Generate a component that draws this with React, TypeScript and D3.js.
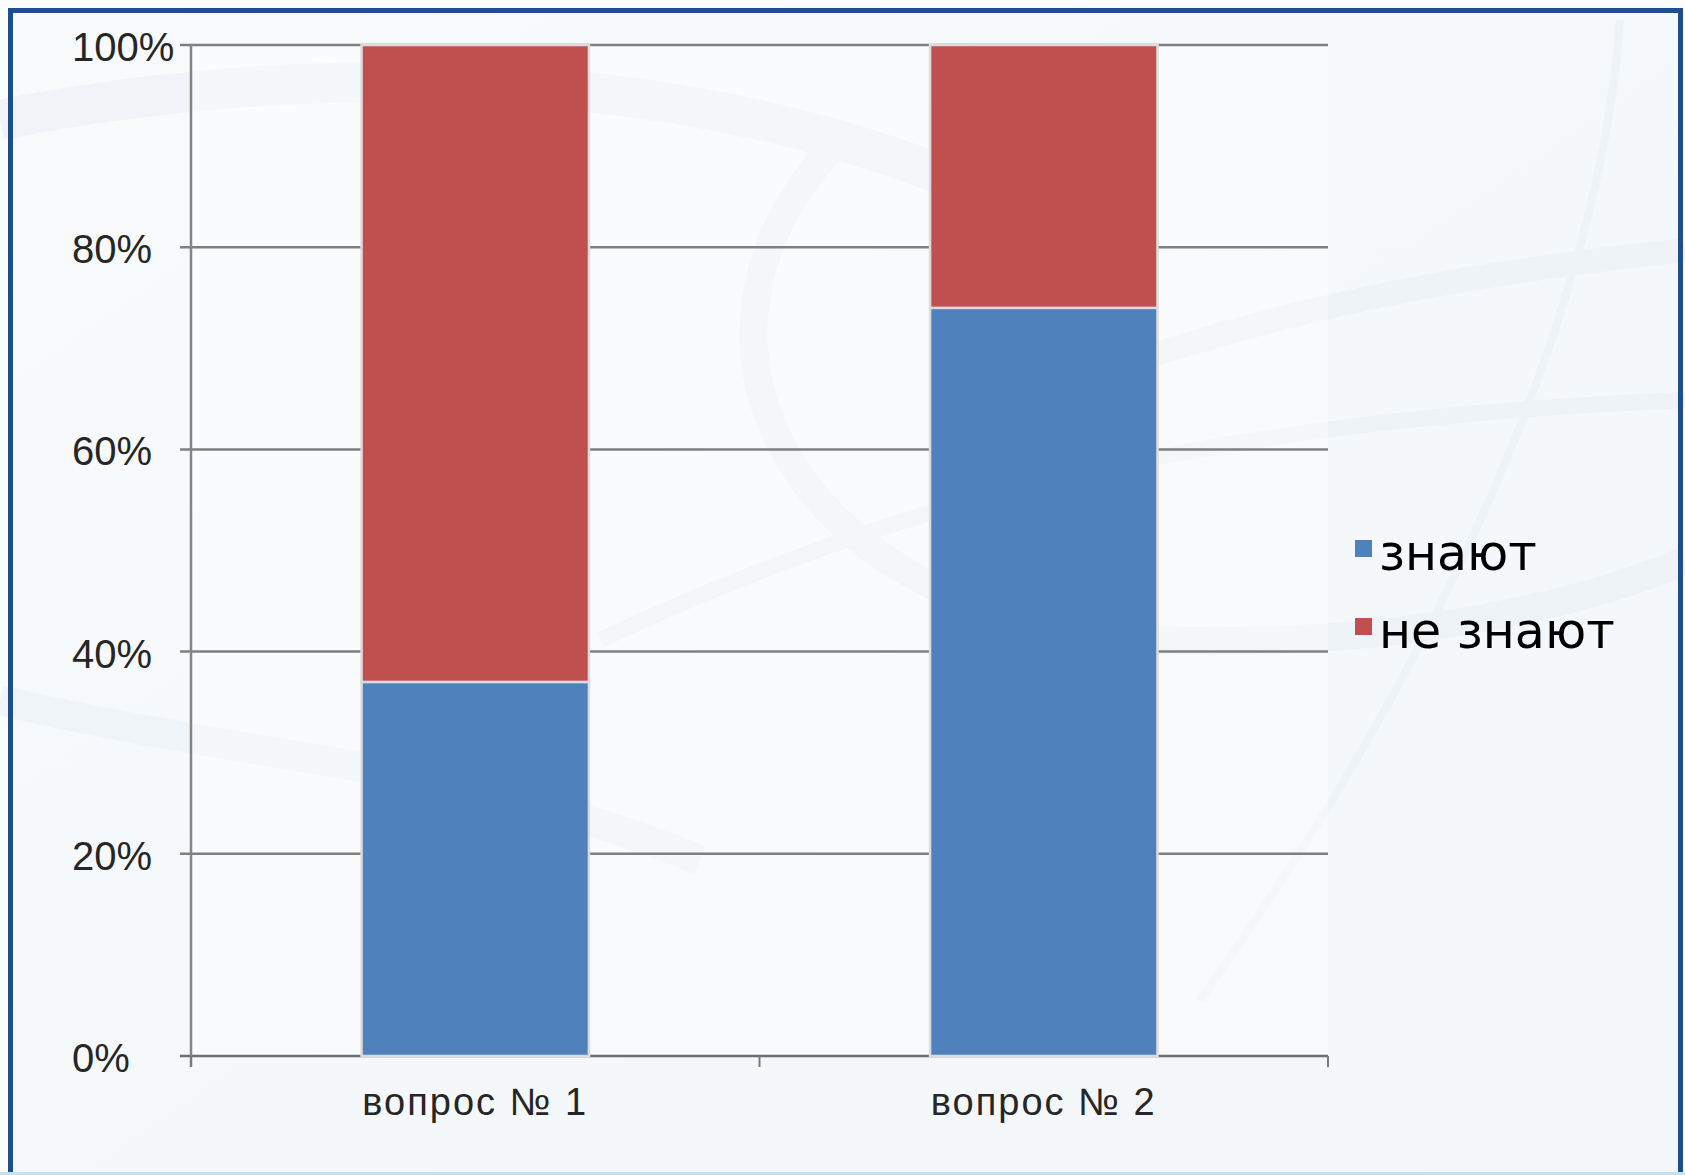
import React from "react";
import * as d3 from "d3";

const categories = ["вопрос № 1", "вопрос № 2"];
const seriesNames = ["знают", "не знают"];
const know = [37, 74];
const dontKnow = [63, 26];
const yTicks = [0, 20, 40, 60, 80, 100];
const colors = ["#4f81bd", "#c0504d"];

const W = 1685;
const H = 1175;
const plot = { left: 191, right: 1328, top: 45, bottom: 1056 };

export default function App() {
  const x = d3.scaleBand<string>().domain(categories).range([plot.left, plot.right]).paddingInner(0).paddingOuter(0);
  const y = d3.scaleLinear().domain([0, 100]).range([plot.bottom, plot.top]);
  const barW = x.bandwidth() / 2.5;

  const rows = categories.map((c, i) => ({ cat: c, values: [know[i], dontKnow[i]] }));
  const stack = d3.stack<any>().keys(["0", "1"]).value((d: any, k: string) => d.values[+k]);
  const stacked = stack(rows as any);

  const catEdges = [plot.left, ...categories.map((c) => (x(c) as number) + x.bandwidth())];

  return (
    <svg width={W} height={H} style={{ position: "absolute", left: 0, top: 0 }}>
      <defs>
        <linearGradient id="bg" x1="0" y1="0" x2="1" y2="1">
          <stop offset="0" stopColor="#f8fafc" />
          <stop offset="1" stopColor="#f3f7fa" />
        </linearGradient>
      </defs>
      <rect x={0} y={0} width={W} height={H} fill="#fbfcfc" />
      <rect x={10} y={10} width={1671} height={1170} fill="url(#bg)" />
      {/* faint decorative swirls */}
      <g fill="none" stroke="#e6edf3" opacity={0.45}>
        <path d="M 0 120 C 300 60, 700 60, 1000 200" strokeWidth={40} />
        <path d="M 830 150 C 650 350, 800 620, 1150 640 C 1400 650, 1600 600, 1685 560" strokeWidth={28} />
        <path d="M 1080 380 C 1300 300, 1500 270, 1685 250" strokeWidth={24} />
        <path d="M 0 700 C 250 760, 450 760, 700 860" strokeWidth={30} />
        <path d="M 1620 20 C 1600 300, 1450 650, 1200 1000" strokeWidth={8} />
        <path d="M 600 640 C 900 500, 1200 420, 1685 400" strokeWidth={16} />
      </g>
      <rect x={10.5} y={10.5} width={1670} height={1180} fill="none" stroke="#1d4f8c" strokeWidth={5} />
      <line x1={0} x2={W} y1={1173.5} y2={1173.5} stroke="#bfe3ef" strokeWidth={3} />

      {/* plot area */}
      <rect x={plot.left} y={plot.top} width={plot.right - plot.left} height={plot.bottom - plot.top} fill="#ffffff" opacity={0.35} />

      {/* gridlines */}
      {yTicks.map((t) => (
        <line key={"g" + t} x1={plot.left - 11} x2={plot.right} y1={y(t)} y2={y(t)} stroke={t === 0 ? "#6e6e6e" : "#7f7f7f"} strokeWidth={2.5} />
      ))}
      {/* y axis */}
      <line x1={plot.left} x2={plot.left} y1={plot.top} y2={plot.bottom + 11} stroke="#858585" strokeWidth={2.5} />
      {catEdges.map((e, i) => (
        <line key={"xt" + i} x1={e} x2={e} y1={plot.bottom} y2={plot.bottom + 11} stroke="#7a7a7a" strokeWidth={2} />
      ))}

      {/* bars */}
      {stacked.map((layer, si) =>
        layer.map((d: any, i: number) => {
          const cx = (x(categories[i]) as number) + x.bandwidth() / 2;
          return (
            <rect
              key={si + "-" + i}
              x={cx - barW / 2}
              y={y(d[1])}
              width={barW}
              height={y(d[0]) - y(d[1])}
              fill={colors[si]}
              stroke="#dcdcdc"
              strokeWidth={2.5}
            />
          );
        })
      )}

      {/* y labels */}
      {yTicks.map((t) => (
        <text
          key={"yl" + t}
          x={72}
          y={y(t) + 2}
          textAnchor="start"
          dominantBaseline="central"
          fontFamily="'Liberation Sans', Arial, sans-serif"
          fontSize={40}
          fill="#262626"
        >
          {t + "%"}
        </text>
      ))}

      {/* x labels */}
      {categories.map((c) => (
        <text
          key={"xl" + c}
          x={(x(c) as number) + x.bandwidth() / 2}
          y={1115}
          textAnchor="middle"
          fontFamily="'Liberation Sans', Arial, sans-serif"
          fontSize={38}
          letterSpacing={2}
          fill="#262626"
        >
          {c}
        </text>
      ))}

      {/* legend */}
      {seriesNames.map((s, i) => (
        <g key={"lg" + s}>
          <rect x={1355} y={540 + i * 78} width={17} height={17} fill={colors[i]} />
          <text x={1379} y={570 + i * 78} fontFamily="'DejaVu Sans', sans-serif" fontSize={49} fill="#000">
            {s}
          </text>
        </g>
      ))}
    </svg>
  );
}
